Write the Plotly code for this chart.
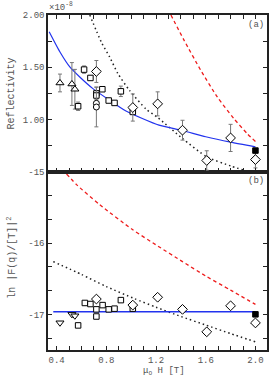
import plotly.graph_objects as go

# ---------------- data (panel a: reflectivity, units of 1e-8) ----------------
tri_a_x = [0.427, 0.523, 0.547]
tri_a_y = [1.35, 1.34, 1.29]
tri_a_e = [0.085, 0.205, 0.19]

sq_a_x = [0.573, 0.621, 0.672, 0.72, 0.72, 0.768, 0.819, 0.866, 0.917, 1.013]
sq_a_y = [1.127, 1.478, 1.398, 1.25, 1.23, 1.29, 1.182, 1.159, 1.27, 1.073]
sq_a_e = [0.04, 0.035, 0.02, 0.06, 0.0, 0.02, 0.0, 0.0, 0.05, 0.0]

dia_a_x = [0.72, 1.013, 1.213, 1.413, 1.608, 1.80, 2.0]
dia_a_y = [1.46, 1.115, 1.15, 0.898, 0.608, 0.824, 0.617]
dia_a_e = [0.105, 0.13, 0.115, 0.095, 0.093, 0.13, 0.08]

circ_a_x = [0.72, 0.72]
circ_a_y = [1.155, 1.12]
circ_a_e = [0.0, 0.19]

fill_a_x = [2.0]
fill_a_y = [0.703]

blue_a_x = [0.34, 0.427, 0.506, 0.586, 0.692, 0.826, 0.958, 1.09, 1.224, 1.41, 1.6, 1.8, 2.0]
blue_a_y = [1.84, 1.646, 1.503, 1.407, 1.296, 1.185, 1.082, 1.01, 0.946, 0.895, 0.835, 0.783, 0.738]

dot_a_x = [0.667, 0.76, 0.826, 0.893, 0.986, 1.12, 1.213, 1.413, 1.608, 1.8, 1.906]
dot_a_y = [2.0, 1.74, 1.6, 1.44, 1.28, 1.1, 1.02, 0.818, 0.643, 0.556, 0.515]

red_a_x = [1.32, 1.426, 1.56, 1.693, 1.826, 1.933, 2.0]
red_a_y = [2.0, 1.758, 1.471, 1.216, 1.01, 0.866, 0.79]

# ---------------- data (panel b: ln|F(q)/[T]|^2) ----------------
tri_b_x = [0.427, 0.523, 0.547]
tri_b_y = [-17.118, -17.0, -17.02]

sq_b_x = [0.573, 0.627, 0.672, 0.72, 0.72, 0.77, 0.819, 0.866, 0.917, 1.013]
sq_b_y = [-17.155, -16.84, -16.855, -16.93, -17.03, -16.87, -16.93, -16.92, -16.8, -16.92]

dia_b_x = [0.72, 1.013, 1.213, 1.413, 1.608, 1.80, 2.0]
dia_b_y = [-16.785, -16.87, -16.76, -16.93, -17.245, -16.88, -17.12]

fill_b_x = [2.0]
fill_b_y = [-17.0]

blue_b_x = [0.373, 2.0]
blue_b_y = [-16.965, -16.965]

dot_b_x = [0.373, 0.6, 0.8, 1.027, 1.2, 1.4, 1.6, 1.8, 2.0]
dot_b_y = [-16.26, -16.44, -16.61, -16.78, -16.9, -17.03, -17.15, -17.27, -17.385]

red_b_x = [0.48, 0.56, 0.746, 1.01, 1.213, 1.413, 1.608, 1.8, 2.0]
red_b_y = [-15.03, -15.18, -15.46, -15.81, -16.04, -16.26, -16.47, -16.66, -16.86]

# ---------------- ticks ----------------
x_tickvals = [0.4, 0.8, 1.2, 1.6, 2.0]
x_ticktext = ["0.4", "0.8", "1.2", "1.6", "2.0"]
ya_tickvals = [1.0, 1.5, 2.0]
ya_ticktext = ["1.00", "1.50", "2.00"]
yb_tickvals = [-17.0, -16.0, -15.0]
yb_ticktext = ["-17", "-16", "-15"]

FONT = "Liberation Mono"
TXT = "#555555"
BLUE = "#2233ee"
RED = "#ee1c1c"

fig = go.Figure()

def err(arr):
    return dict(type="data", array=arr, visible=True, color="#777777", thickness=1, width=2)

def pts(x, y, sym, size, xa, ya, e=None, fill=False):
    fig.add_trace(go.Scatter(
        x=x, y=y, mode="markers", xaxis=xa, yaxis=ya,
        marker=dict(symbol=sym, size=size, color="black" if fill else "white",
                    line=dict(color="black", width=1)),
        error_y=err(e) if e is not None else None,
        showlegend=False))

def line(x, y, color, dash, width, xa, ya):
    fig.add_trace(go.Scatter(
        x=x, y=y, mode="lines", xaxis=xa, yaxis=ya,
        line=dict(color=color, dash=dash, width=width, shape="spline", smoothing=0.6),
        showlegend=False, hoverinfo="skip"))

# panel a (top): x2 / y2
line(dot_a_x, dot_a_y, "#222222", "1.5px,3px", 1.5, "x2", "y2")
line(red_a_x, red_a_y, RED, "3.5px,3px", 1.3, "x2", "y2")
line(blue_a_x, blue_a_y, BLUE, "solid", 1.2, "x2", "y2")
pts(tri_a_x, tri_a_y, "triangle-up", 7, "x2", "y2", tri_a_e)
pts(sq_a_x, sq_a_y, "square", 5.5, "x2", "y2", sq_a_e)
pts(circ_a_x, circ_a_y, "circle", 6, "x2", "y2", circ_a_e)
pts(dia_a_x, dia_a_y, "diamond", 7.5, "x2", "y2", dia_a_e)
pts(fill_a_x, fill_a_y, "square", 5.5, "x2", "y2", None, fill=True)

# panel b (bottom): x / y
line(dot_b_x, dot_b_y, "#222222", "1.5px,3px", 1.5, "x", "y")
line(red_b_x, red_b_y, RED, "3.5px,3px", 1.3, "x", "y")
line(blue_b_x, blue_b_y, BLUE, "solid", 1.5, "x", "y")
pts(tri_b_x, tri_b_y, "triangle-down", 7, "x", "y")
pts(sq_b_x, sq_b_y, "square", 5.5, "x", "y")
pts(dia_b_x, dia_b_y, "diamond", 7.5, "x", "y")
pts(fill_b_x, fill_b_y, "square", 5.5, "x", "y", None, fill=True)

XR = [0.3306, 2.093]
SPLIT = 0.532
tickfont = dict(family=FONT, size=9, color=TXT)
common = dict(showgrid=False, zeroline=False, ticks="inside", ticklen=4, tickwidth=1,
              tickcolor="#222222", showline=True, linecolor="#222222", linewidth=1.5,
              tickfont=tickfont)
minor_x = dict(dtick=0.1, tick0=0.4, ticks="inside", ticklen=4, tickcolor="#222222", showgrid=False)
minor_ya = dict(dtick=0.25, tick0=0.5, ticks="inside", ticklen=4, tickcolor="#222222", showgrid=False)
minor_yb = dict(dtick=1 / 3, tick0=-17.0, ticks="inside", ticklen=4, tickcolor="#222222", showgrid=False)

fig.update_layout(
    width=270, height=377,
    margin=dict(l=48, r=1, t=15, b=27),
    paper_bgcolor="white", plot_bgcolor="white",
    xaxis=dict(domain=[0, 1], anchor="y", range=XR, tickmode="array",
               tickvals=x_tickvals, ticktext=x_ticktext, mirror=True, minor=minor_x, **common),
    yaxis=dict(domain=[0, SPLIT], anchor="x", range=[-17.5, -14.9995], tickmode="array",
               tickvals=yb_tickvals, ticktext=yb_ticktext, mirror="ticks", minor=minor_yb, **common),
    xaxis2=dict(domain=[0, 1], anchor="y2", range=XR, tickmode="array",
                tickvals=x_tickvals, ticktext=x_ticktext, showticklabels=False,
                mirror="ticks", minor=minor_x, **common),
    yaxis2=dict(domain=[SPLIT, 1], anchor="x2", range=[0.5, 2.0005], tickmode="array",
                tickvals=ya_tickvals, ticktext=ya_ticktext, mirror="ticks", minor=minor_ya, **common),
)

ann = []
ann.append(dict(text="Reflectivity", x=-0.168, y=(1 + SPLIT) / 2, xref="paper", yref="paper",
                textangle=-90, showarrow=False, font=dict(family=FONT, size=10, color=TXT),
                xanchor="center", yanchor="middle"))
ann.append(dict(text="ln |F(q)/[T]|<sup>2</sup>", x=-0.168, y=SPLIT / 2 + 0.01, xref="paper", yref="paper",
                textangle=-90, showarrow=False, font=dict(family=FONT, size=10, color=TXT),
                xanchor="center", yanchor="middle"))
ann.append(dict(text="μ<sub>o</sub> H [T]", x=0.53, y=-0.041, xref="paper", yref="paper",
                showarrow=False, font=dict(family=FONT, size=9, color=TXT),
                xanchor="center", yanchor="top"))
ann.append(dict(text="×10<sup>-8</sup>", x=-0.005, y=1.0, xref="paper", yref="paper",
                showarrow=False, font=dict(family=FONT, size=9, color=TXT),
                xanchor="left", yanchor="bottom"))
ann.append(dict(text="(a)", x=0.995, y=0.99, xref="paper", yref="paper",
                showarrow=False, font=dict(family=FONT, size=9, color=TXT),
                xanchor="right", yanchor="top"))
ann.append(dict(text="(b)", x=0.995, y=SPLIT - 0.007, xref="paper", yref="paper",
                showarrow=False, font=dict(family=FONT, size=9, color=TXT),
                xanchor="right", yanchor="top"))
fig.update_layout(annotations=ann)

fig.write_html("out.html", config={"displayModeBar": False},
               post_script="document.body.style.margin='0';document.body.style.padding='0';")
